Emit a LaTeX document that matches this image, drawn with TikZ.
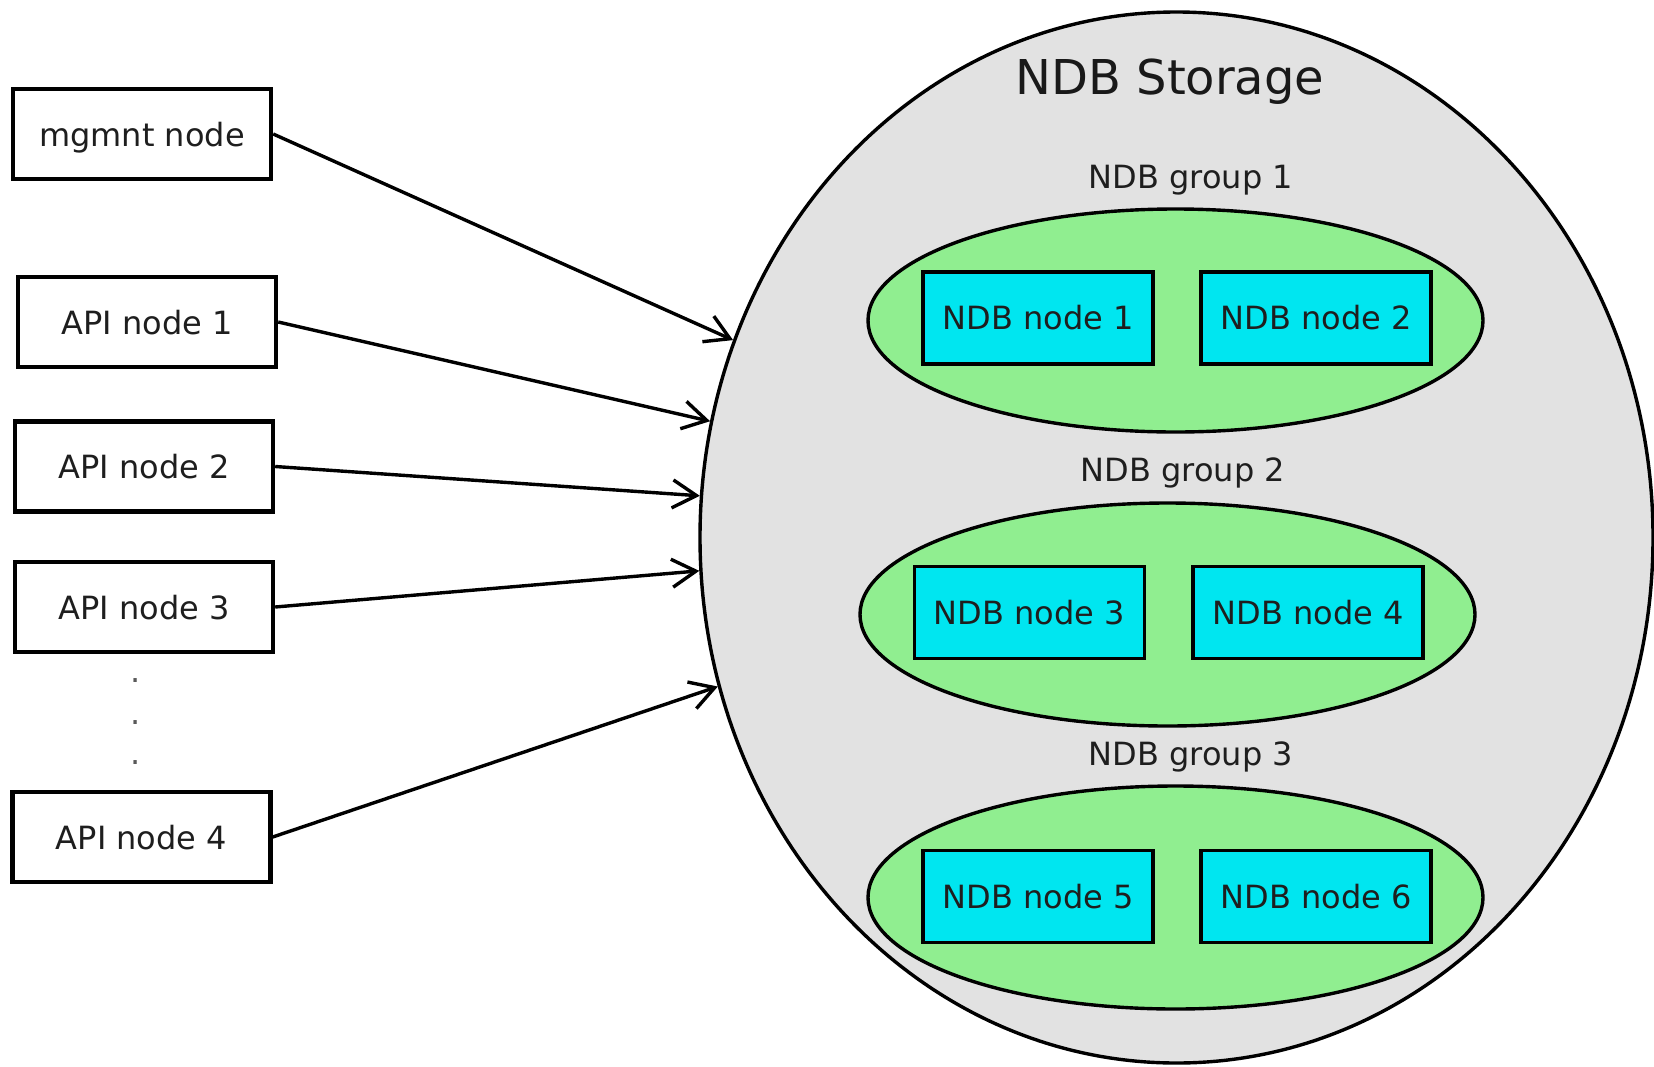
\documentclass[tikz,border=0pt]{standalone}
\usepackage{fontspec}
\setmainfont{DejaVu Sans}
\usetikzlibrary{shapes.geometric,arrows.meta}

\definecolor{storagegray}{HTML}{E2E2E2}
\definecolor{groupgreen}{HTML}{90EE90}
\definecolor{ndbcyan}{HTML}{00E6F0}
\definecolor{labeltext}{HTML}{1E1E1E}

\begin{document}
\begin{tikzpicture}[x=0.5pt,y=-0.5pt,
  client/.style={draw=black,line width=2.2pt,fill=white,inner sep=0pt,
    minimum width=129pt,minimum height=45pt,text depth=0pt,
    font=\fontsize{16}{19}\selectfont,text=labeltext},
  ndbnode/.style={draw=black,line width=1.8pt,fill=ndbcyan,inner sep=0pt,
    minimum width=115pt,minimum height=46pt,
    font=\fontsize{16}{19}\selectfont,text=labeltext},
  group/.style={ellipse,draw=black,line width=1.7pt,fill=groupgreen,inner sep=0pt,
    minimum width=307.5pt,minimum height=111.5pt},
  grouplabel/.style={font=\fontsize{16}{19}\selectfont,text=labeltext,inner sep=0pt},
  ellipsisdot/.style={font=\fontsize{16}{19}\selectfont,text=black!65,inner sep=0pt},
  link/.style={line width=1.7pt,-{Straight Barb[length=12pt,width=14pt,line width=1.7pt]}}
]
\useasboundingbox (0,0) rectangle (1654,1066);

% storage cluster
\node[ellipse,draw=black,line width=1.7pt,fill=storagegray,inner sep=0pt,
      minimum width=476.5pt,minimum height=525.5pt] (storage) at (1176.5,537.5) {};
\node[font=\fontsize{24}{29}\selectfont,text=black!90,inner sep=0pt] (title) at (1170,82) {NDB Storage};

% node groups
\node[grouplabel] (g1label) at (1191,180) {NDB group 1};
\node[group] (g1) at (1175.5,320.5) {};
\node[ndbnode] (n1) at (1038,318) {NDB node 1};
\node[ndbnode] (n2) at (1316,318) {NDB node 2};

\node[grouplabel] (g2label) at (1183,473) {NDB group 2};
\node[group] (g2) at (1167.5,614.5) {};
\node[ndbnode] (n3) at (1029.5,612.5) {NDB node 3};
\node[ndbnode] (n4) at (1308,612.5) {NDB node 4};

\node[grouplabel] (g3label) at (1191,757) {NDB group 3};
\node[group] (g3) at (1175.5,897.5) {};
\node[ndbnode] (n5) at (1038,896.5) {NDB node 5};
\node[ndbnode] (n6) at (1316,896.5) {NDB node 6};

% clients
\node[client] (mgm)  at (142,134)   {mgmnt node};
\node[client] (api1) at (147,322)   {API node 1};
\node[client] (api2) at (144,466.5) {API node 2};
\node[client] (api3) at (144,607)   {API node 3};
\node[client] (api4) at (141.5,837) {API node 4};

\node[ellipsisdot] (d1) at (136,681) {.};
\node[ellipsisdot] (d2) at (136,723) {.};
\node[ellipsisdot] (d3) at (136,763) {.};

% connections
\draw[link] (mgm.east)  -- (storage.156.1);
\draw[link] (api1.east) -- (storage.166.6);
\draw[link] (api2.east) -- (storage.175.5);
\draw[link] (api3.east) -- (storage.184.5);
\draw[link] (api4.east) -- (storage.198.4);
\end{tikzpicture}
\end{document}
